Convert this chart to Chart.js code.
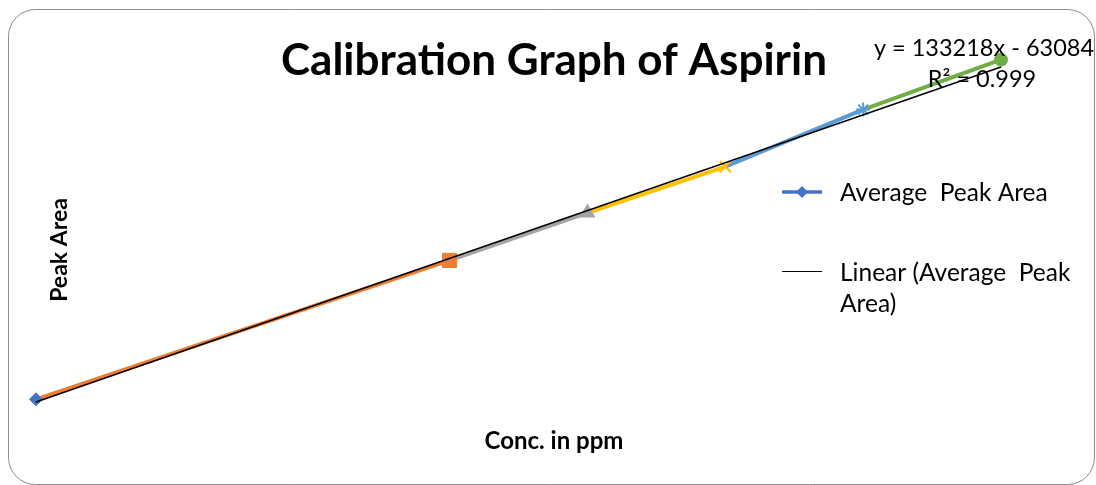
<!DOCTYPE html>
<html>
<head>
<meta charset="utf-8">
<script src="https://cdn.jsdelivr.net/npm/chart.js@4/dist/chart.umd.min.js"></script>
<style>
  html, body { margin: 0; padding: 0; background: #ffffff; }
  #wrap { position: relative; width: 1096px; height: 485px; }
</style>
</head>
<body>
<div id="wrap"><canvas id="c" width="1096" height="485"></canvas></div>
<script>
// ---- data ----
const concentrations = [1, 4, 5, 6, 7, 8];
const peakAreas = [77650, 464200, 596600, 725100, 883900, 1022960];
const pointColors = ['#4472C4', '#ED7D31', '#A5A5A5', '#FFC000', '#5B9BD5', '#70AD47'];
const pointStyles = ['rectRot', 'rect', 'triangle', 'crossRot', 'star', 'circle'];
const pointSizes = [6.5, 10, 8.5, 8, 7, 6.5];
const trendSlope = 133218;
const trendIntercept = -63084;
const trendX = [1, 8];
const titleText = 'Calibration Graph of Aspirin';
const xTitle = 'Conc. in ppm';
const yTitle = 'Peak Area';
const equationText = 'y = 133218x - 63084';
const r2Text = 'R\u00B2 = 0.999';
const seriesName = 'Average  Peak Area';
const trendNameLines = ['Linear (Average  Peak', 'Area)'];

const FONT = 'Lato, "Open Sans", sans-serif';

const mainData = concentrations.map((x, i) => ({ x: x, y: peakAreas[i] }));
const trendData = trendX.map(x => ({ x: x, y: trendSlope * x + trendIntercept }));

const decor = {
  id: 'decor',
  beforeDraw(chart) {
    const ctx = chart.ctx;
    ctx.save();
    ctx.fillStyle = '#ffffff';
    ctx.fillRect(0, 0, chart.width, chart.height);
    const x0 = 8.5, y0 = 9.5, x1 = 1094.5, y1 = 484.5, r = 27;
    ctx.beginPath();
    ctx.moveTo(x0 + r, y0);
    ctx.lineTo(x1 - r, y0);
    ctx.arcTo(x1, y0, x1, y0 + r, r);
    ctx.lineTo(x1, y1 - r);
    ctx.arcTo(x1, y1, x1 - r, y1, r);
    ctx.lineTo(x0 + r, y1);
    ctx.arcTo(x0, y1, x0, y1 - r, r);
    ctx.lineTo(x0, y0 + r);
    ctx.arcTo(x0, y0, x0 + r, y0, r);
    ctx.closePath();
    ctx.strokeStyle = '#8c8c8c';
    ctx.lineWidth = 1;
    ctx.stroke();
    ctx.restore();
  },
  afterDraw(chart) {
    const ctx = chart.ctx;
    ctx.save();
    ctx.fillStyle = '#000000';
    ctx.textAlign = 'center';
    ctx.textBaseline = 'middle';
    // title
    ctx.font = 'bold 44px ' + FONT;
    ctx.fillText(titleText, 554, 61);
    // x axis title
    ctx.font = 'bold 24px ' + FONT;
    ctx.fillText(xTitle, 554, 441);
    // y axis title
    ctx.save();
    ctx.translate(60, 250);
    ctx.rotate(-Math.PI / 2);
    ctx.font = 'bold 23px ' + FONT;
    ctx.fillText(yTitle, 0, 0);
    ctx.restore();
    // equation
    ctx.font = '23.5px ' + FONT;
    ctx.fillText(equationText, 984, 48);
    ctx.fillText(r2Text, 982, 79);
    // legend
    ctx.textAlign = 'left';
    ctx.font = '24.5px ' + FONT;
    ctx.strokeStyle = pointColors[0];
    ctx.lineWidth = 3.5;
    ctx.beginPath();
    ctx.moveTo(782, 192); ctx.lineTo(822, 192);
    ctx.stroke();
    ctx.fillStyle = pointColors[0];
    ctx.beginPath();
    ctx.moveTo(802 - 6, 192); ctx.lineTo(802, 186); ctx.lineTo(808, 192); ctx.lineTo(802, 198);
    ctx.closePath(); ctx.fill();
    ctx.fillStyle = '#000000';
    ctx.fillText(seriesName, 840, 193);
    ctx.strokeStyle = '#000000';
    ctx.lineWidth = 1;
    ctx.beginPath();
    ctx.moveTo(782, 271.5); ctx.lineTo(822, 271.5);
    ctx.stroke();
    ctx.fillText(trendNameLines[0], 840, 273);
    ctx.fillText(trendNameLines[1], 840, 304);
    ctx.restore();
  }
};

new Chart(document.getElementById('c'), {
  type: 'scatter',
  data: {
    datasets: [
      {
        label: 'Linear (Average  Peak Area)',
        data: trendData,
        showLine: true,
        borderColor: '#000000',
        borderWidth: 1.5,
        pointRadius: 0,
        order: 0,
        clip: false
      },
      {
        label: seriesName,
        data: mainData,
        showLine: true,
        borderWidth: 4,
        borderColor: pointColors[0],
        segment: {
          borderColor: c => pointColors[c.p1DataIndex]
        },
        pointStyle: pointStyles,
        pointRadius: pointSizes,
        pointBackgroundColor: pointColors,
        pointBorderColor: pointColors,
        pointBorderWidth: [1, 1, 1, 2, 2, 1],
        order: 1,
        clip: false
      }
    ]
  },
  options: {
    responsive: false,
    animation: false,
    devicePixelRatio: 1,
    layout: { padding: { left: 36, right: 95, top: 40, bottom: 65 } },
    scales: {
      x: { type: 'linear', min: 1, max: 8, display: false },
      y: { type: 'linear', min: 20000, max: 1077600, display: false }
    },
    plugins: {
      legend: { display: false },
      title: { display: false },
      tooltip: { enabled: false }
    }
  },
  plugins: [decor]
});
</script>
</body>
</html>
